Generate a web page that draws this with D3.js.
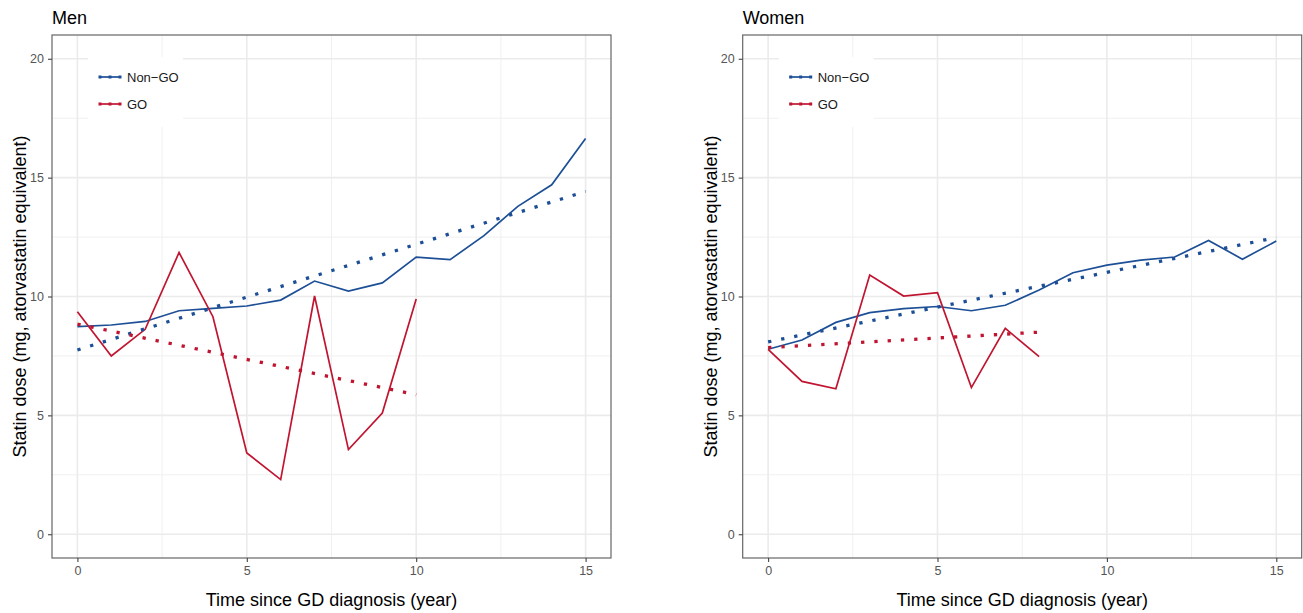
<!DOCTYPE html>
<html>
<head>
<meta charset="utf-8">
<script src="https://cdn.jsdelivr.net/npm/d3@7"></script>
<style>
  body { margin: 0; background: #fff; }
  text { font-family: "Liberation Sans", Arial, sans-serif; }
</style>
</head>
<body>
<svg id="chart" width="1303" height="613"></svg>
<script>
// years since diagnosis
var menYears = [0, 1, 2, 3, 4, 5, 6, 7, 8, 9, 10, 11, 12, 13, 14, 15]
var menGoYears = [0, 1, 2, 3, 4, 5, 6, 7, 8, 9, 10]
var womenYears = [0, 1, 2, 3, 4, 5, 6, 7, 8, 9, 10, 11, 12, 13, 14, 15]
var womenGoYears = [0, 1, 2, 3, 4, 5, 6, 7, 8]

// observed mean dose
var menNonGo = [8.73, 8.80, 8.95, 9.40, 9.50, 9.60, 9.85, 10.65, 10.23, 10.57, 11.66, 11.55, 12.56, 13.79, 14.70, 16.65]
var menGo = [9.36, 7.50, 8.62, 11.85, 9.15, 3.42, 2.30, 10.02, 3.56, 5.10, 9.89]
var womenNonGo = [7.78, 8.17, 8.91, 9.32, 9.49, 9.58, 9.40, 9.63, 10.27, 11.00, 11.32, 11.53, 11.66, 12.36, 11.57, 12.33]
var womenGo = [7.78, 6.43, 6.12, 10.90, 10.02, 10.16, 6.17, 8.66, 7.47]

// fitted trend, start and end
var menNonGoFit = [[0, 7.75], [15, 14.42]]
var menGoFit = [[0, 8.84], [10, 5.87]]
var womenNonGoFit = [[0, 8.09], [15, 12.48]]
var womenGoFit = [[0, 7.85], [8, 8.50]]

var yTicks = [0, 5, 10, 15, 20]
var xTicks = [0, 5, 10, 15]
var legendLabels = ["Non\u2212GO", "GO"]

var blue = "#1d4f96"
var red = "#c01530"

var svg = d3.select("#chart")

function zip(xs, ys) {
  return xs.map(function(x, i) { return [x, ys[i]] })
}

function drawPanel(left, title, nonGo, go, nonGoFit, goFit) {
  var top = 35
  var width = 559
  var height = 523

  var xScale = d3.scaleLinear().domain([-0.75, 15.75]).range([left, left + width])
  var yScale = d3.scaleLinear().domain([-1, 21]).range([top + height, top])

  var g = svg.append("g")

  // minor grid
  var minorX = [2.5, 7.5, 12.5]
  var minorY = [2.5, 7.5, 12.5, 17.5]
  g.selectAll(".minx").data(minorX).enter().append("line")
    .attr("x1", function(d) { return xScale(d) }).attr("x2", function(d) { return xScale(d) })
    .attr("y1", top).attr("y2", top + height)
    .attr("stroke", "#f0f0f0").attr("stroke-width", 1)
  g.selectAll(".miny").data(minorY).enter().append("line")
    .attr("y1", function(d) { return yScale(d) }).attr("y2", function(d) { return yScale(d) })
    .attr("x1", left).attr("x2", left + width)
    .attr("stroke", "#f0f0f0").attr("stroke-width", 1)

  // major grid
  g.selectAll(".majx").data(xTicks).enter().append("line")
    .attr("x1", function(d) { return xScale(d) }).attr("x2", function(d) { return xScale(d) })
    .attr("y1", top).attr("y2", top + height)
    .attr("stroke", "#ebebeb").attr("stroke-width", 1.6)
  g.selectAll(".majy").data(yTicks).enter().append("line")
    .attr("y1", function(d) { return yScale(d) }).attr("y2", function(d) { return yScale(d) })
    .attr("x1", left).attr("x2", left + width)
    .attr("stroke", "#ebebeb").attr("stroke-width", 1.6)

  var line = d3.line()
    .x(function(d) { return xScale(d[0]) })
    .y(function(d) { return yScale(d[1]) })

  // observed lines
  g.append("path").datum(nonGo).attr("d", line)
    .attr("fill", "none").attr("stroke", blue).attr("stroke-width", 1.7)
  g.append("path").datum(go).attr("d", line)
    .attr("fill", "none").attr("stroke", red).attr("stroke-width", 1.7)

  // fitted dotted lines
  g.append("path").datum(nonGoFit).attr("d", line)
    .attr("fill", "none").attr("stroke", blue).attr("stroke-width", 3.3)
    .attr("stroke-dasharray", "3.3,10")
  g.append("path").datum(goFit).attr("d", line)
    .attr("fill", "none").attr("stroke", red).attr("stroke-width", 3.3)
    .attr("stroke-dasharray", "3.3,10")

  // legend
  var lx = left + 36
  var ly = top + 22
  g.append("rect").attr("x", lx).attr("y", ly).attr("width", 95).attr("height", 70).attr("fill", "#fff")
  var colors = [blue, red]
  legendLabels.forEach(function(lab, i) {
    var yy = ly + 20 + i * 27
    g.append("line").attr("x1", lx + 11).attr("x2", lx + 33).attr("y1", yy).attr("y2", yy)
      .attr("stroke", colors[i]).attr("stroke-width", 1.7)
    ;[lx + 12, lx + 22, lx + 32].forEach(function(px) {
      g.append("rect").attr("x", px - 1.5).attr("y", yy - 1.5).attr("width", 3).attr("height", 3)
        .attr("fill", colors[i])
    })
    g.append("text").attr("x", lx + 39).attr("y", yy + 4.5)
      .attr("font-size", 13).attr("fill", "#1a1a1a").text(lab)
  })

  // border
  g.append("rect").attr("x", left).attr("y", top).attr("width", width).attr("height", height)
    .attr("fill", "none").attr("stroke", "#666").attr("stroke-width", 1.2)

  // axes
  var xAxis = d3.axisBottom(xScale).tickValues(xTicks).tickSize(4).tickPadding(4)
  var yAxis = d3.axisLeft(yScale).tickValues(yTicks).tickSize(4).tickPadding(4)
  var gx = g.append("g").attr("transform", "translate(0," + (top + height) + ")").call(xAxis)
  var gy = g.append("g").attr("transform", "translate(" + left + ",0)").call(yAxis)
  ;[gx, gy].forEach(function(a) {
    a.attr("font-size", null).attr("font-family", null)
    a.select(".domain").remove()
    a.selectAll(".tick line").attr("stroke", "#444").attr("stroke-width", 1.1)
    a.selectAll(".tick text").attr("fill", "#555").style("font-size", "12.5px")
  })

  // titles
  g.append("text").attr("x", left).attr("y", 24).attr("font-size", 18).attr("fill", "#000").text(title)
  g.append("text").attr("x", left + width / 2).attr("y", 606).attr("text-anchor", "middle")
    .attr("font-size", 18).attr("fill", "#000").text("Time since GD diagnosis (year)")
  g.append("text")
    .attr("transform", "translate(" + (left - 26) + "," + (top + height / 2) + ") rotate(-90)")
    .attr("text-anchor", "middle").attr("font-size", 18).attr("fill", "#000")
    .text("Statin dose (mg, atorvastatin equivalent)")
}

drawPanel(52, "Men", zip(menYears, menNonGo), zip(menGoYears, menGo), menNonGoFit, menGoFit)
drawPanel(742.7, "Women", zip(womenYears, womenNonGo), zip(womenGoYears, womenGo), womenNonGoFit, womenGoFit)
</script>
</body>
</html>
